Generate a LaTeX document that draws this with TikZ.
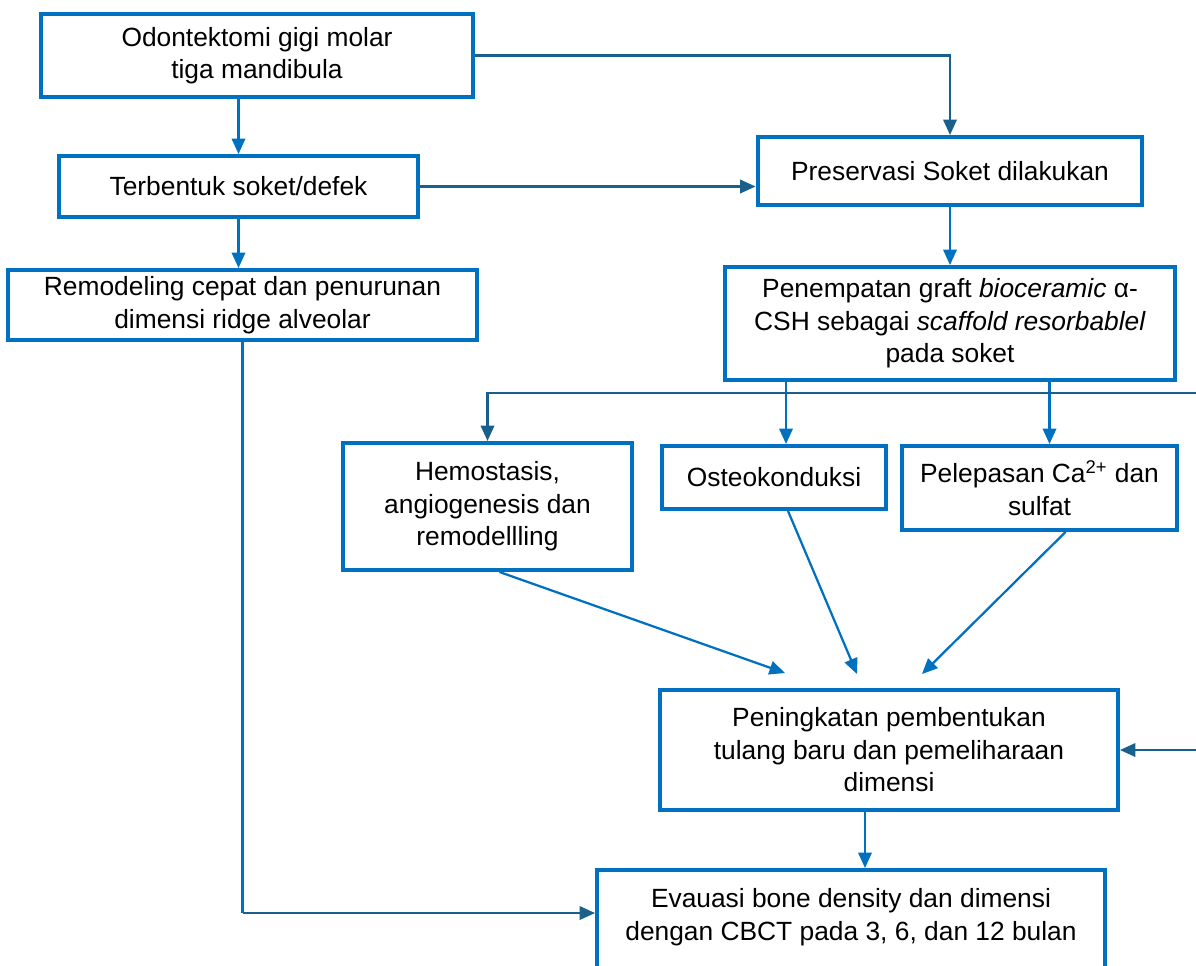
\documentclass[tikz,border=0pt]{standalone}
\usepackage{fontspec}
\setmainfont{Liberation Sans}
\usepackage{tikz}
\usetikzlibrary{calc,arrows.meta}
\definecolor{boxblue}{RGB}{0,112,192}
\definecolor{lineblue}{RGB}{26,96,140}
\tikzset{>={Triangle[length=0.31cm,width=0.27cm]}}
\tikzset{
  kotak/.style={draw=boxblue, line width=0.08cm, align=center,
                font=\fontsize{15}{18.5}\selectfont, inner sep=2pt},
  panah/.style={->, draw=boxblue, line width=0.045cm},
  panahgelap/.style={->, draw=lineblue, line width=0.045cm}
}
\begin{document}
\begin{tikzpicture}[x=0.02cm,y=-0.02cm]
         \useasboundingbox (0,0) rectangle (1196,965);
         \clip (0,0) rectangle (1196,965); % bagian luar halaman dipotong
         % kolom kiri
         \node[kotak, minimum width=8.64cm, minimum height=1.66cm] (odontektomi) at (257,55.5)
              {Odontektomi gigi molar\\tiga mandibula};
         \node[kotak, minimum width=7.18cm, minimum height=1.22cm] (soket) at (238.5,186.5)
              {Terbentuk soket/defek};
         \node[kotak, minimum width=9.38cm, minimum height=1.40cm] (remodeling) at (242.5,305)
              {Remodeling cepat dan penurunan\\dimensi ridge alveolar};
         % kolom kanan
         \node[kotak, minimum width=7.70cm, minimum height=1.36cm] (preservasi) at (950,171)
              {Preservasi Soket dilakukan};
         \node[kotak, minimum width=9.00cm, minimum height=2.26cm] (graft) at (950,323.5)
              {Penempatan graft \textit{bioceramic} α-\\CSH sebagai \textit{scaffold resorbablel}\\pada soket};
         \node[kotak, minimum width=5.78cm, minimum height=2.54cm] (hemostasis) at (487.5,506.5)
              {Hemostasis,\\angiogenesis dan\\remodellling};
         \node[kotak, minimum width=4.48cm, minimum height=1.26cm] (osteokonduksi) at (774,477.5)
              {Osteokonduksi};
         \node[kotak, minimum width=5.50cm, minimum height=1.68cm] (pelepasan) at (1039.5,488)
              {Pelepasan Ca\textsuperscript{2+} dan\\sulfat};
         \node[kotak, minimum width=9.16cm, minimum height=2.40cm] (peningkatan) at (889,750)
              {Peningkatan pembentukan\\tulang baru dan pemeliharaan\\dimensi};
         \node[kotak, anchor=north, minimum width=10.16cm, inner ysep=10.5pt, text depth=1.5cm] (evaluasi) at (851,868)
              {Evauasi bone density dan dimensi\\dengan CBCT pada 3, 6, dan 12 bulan};
         % panah
         \draw[panah] (odontektomi.south -| soket.north) -- (soket.north);
         \draw[panah] (soket.south) -- (soket.south |- remodeling.north);
         \draw[panahgelap] (odontektomi.east) -| (preservasi.north);
         \draw[panahgelap] (soket.east) -- (soket.east -| preservasi.west);
         \draw[panah] (preservasi.south) -- (graft.north);
         \coordinate (o1) at ($(osteokonduksi.north)+(12,0)$);
         \coordinate (p1) at ($(pelepasan.north)+(10,0)$);
         \draw[panah] (o1 |- graft.south) -- (o1);
         \draw[panah] (p1 |- graft.south) -- (p1);
         \coordinate (busKanan) at (1215,393); % garis keluar dari tepi kanan
         \draw[panahgelap] (busKanan) -- (hemostasis.north |- busKanan) -- (hemostasis.north);
         \draw[panahgelap] (busKanan) |- (peningkatan.east);
         \draw[panah] ($(hemostasis.south)+(12,0)$) -- ($(peningkatan.north)+(-104,-15)$);
         \draw[panah] ($(osteokonduksi.south)+(14,0)$) -- ($(peningkatan.north)+(-32,-14)$);
         \draw[panah] ($(pelepasan.south)+(26,0)$) -- ($(peningkatan.north)+(33,-14)$);
         \coordinate (q1) at ($(peningkatan.south)+(-24,0)$);
         \draw[panah] (q1) -- (q1 |- evaluasi.north);
         \coordinate (belok) at (244,913);
         \draw[draw=boxblue, line width=0.045cm] (remodeling.south) -- (remodeling.south |- belok);
         \draw[panahgelap] (remodeling.south |- belok) -- (evaluasi.west |- belok);
\end{tikzpicture}
\end{document}
